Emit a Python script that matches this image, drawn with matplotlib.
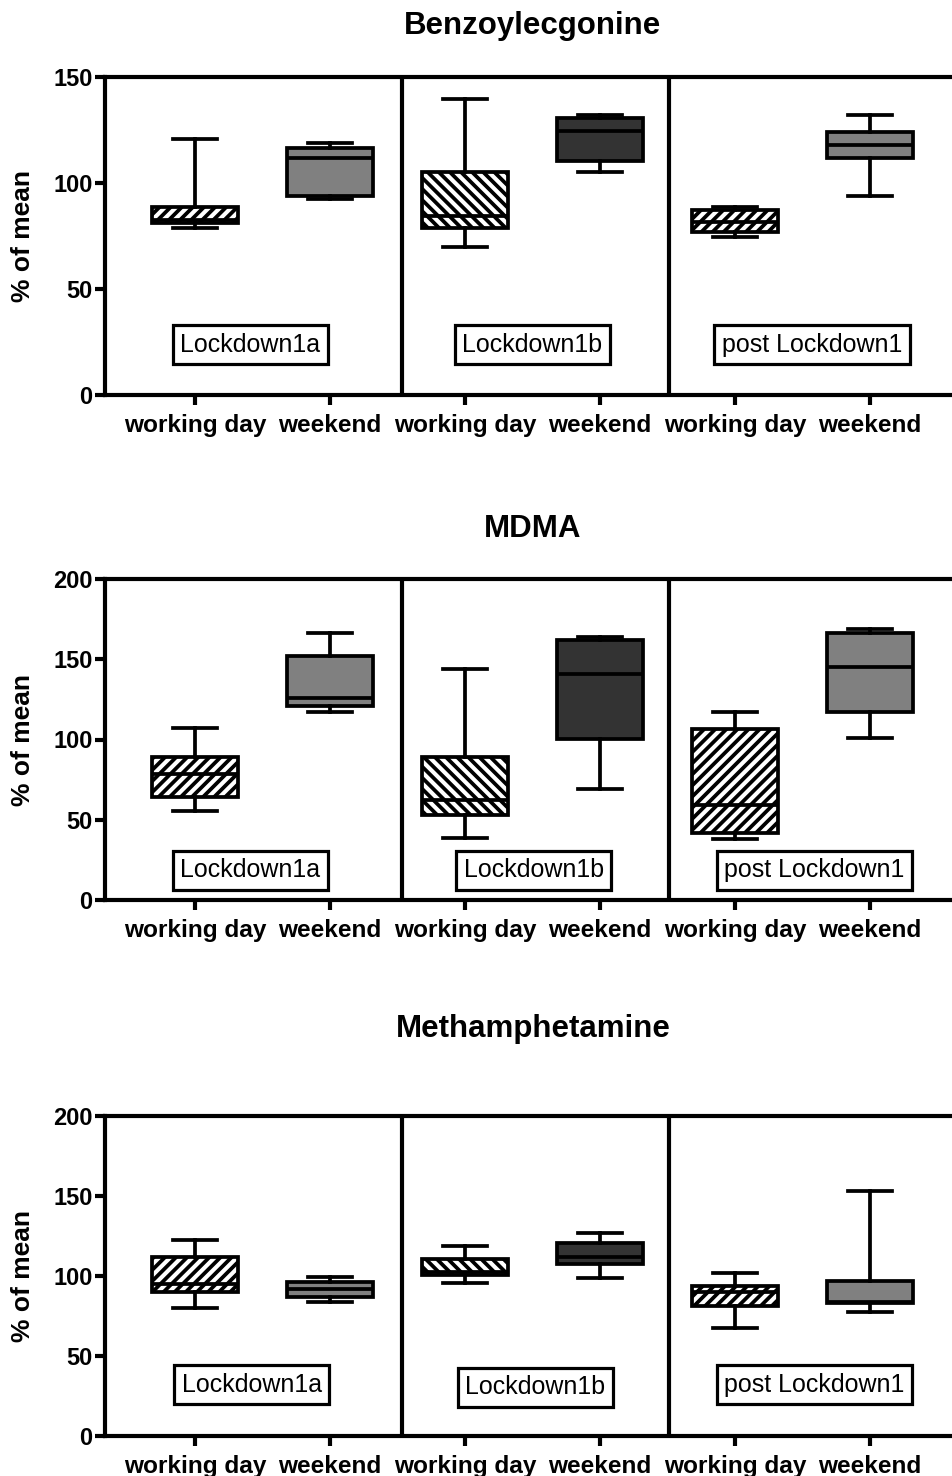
import matplotlib
matplotlib.use("Agg")
import matplotlib.pyplot as plt

plt.rcParams["font.family"] = ["Liberation Sans", "DejaVu Sans"]
plt.rcParams["hatch.linewidth"] = 2.7
plt.rcParams["hatch.color"] = "black"

groups = ["working day", "weekend"] * 3
periods = ["Lockdown1a", "Lockdown1b", "post Lockdown1"]
fills = ["white", "#808080", "white", "#333333", "white", "#808080"]
hatches = ["///", "", "\\\\\\", "", "///", ""]

titles = ["Benzoylecgonine", "MDMA", "Methamphetamine"]
y_tops = [150, 200, 200]

# five-number summaries per group (6 boxes per panel)
benz_lo = [79.0, 92.3, 70.0, 105.0, 74.7, 94.0]
benz_q1 = [81.3, 94.0, 79.0, 110.4, 76.7, 111.6]
benz_med = [82.5, 112.0, 84.4, 124.7, 81.8, 117.9]
benz_q3 = [88.8, 116.6, 105.0, 130.5, 87.3, 124.2]
benz_hi = [120.8, 119.0, 139.5, 132.0, 88.8, 132.0]

mdma_lo = [55.6, 117.3, 38.4, 69.2, 37.8, 101.1]
mdma_q1 = [64.4, 121.0, 53.0, 100.1, 41.9, 117.3]
mdma_med = [78.3, 125.6, 62.3, 140.8, 59.2, 145.4]
mdma_q3 = [88.9, 152.2, 89.3, 162.0, 106.3, 166.2]
mdma_hi = [107.4, 166.2, 143.9, 164.0, 117.0, 168.8]

meth_lo = [80.2, 83.9, 95.4, 98.9, 67.7, 77.3]
meth_q1 = [89.8, 86.7, 100.6, 107.5, 81.5, 83.3]
meth_med = [94.8, 91.9, 102.7, 112.0, 90.0, 83.5]
meth_q3 = [111.7, 96.5, 110.4, 120.4, 93.5, 96.9]
meth_hi = [122.5, 99.2, 118.8, 127.0, 102.0, 153.3]

summaries = [
    (benz_lo, benz_q1, benz_med, benz_q3, benz_hi),
    (mdma_lo, mdma_q1, mdma_med, mdma_q3, mdma_hi),
    (meth_lo, meth_q1, meth_med, meth_q3, meth_hi),
]

# period label boxes: x centre and y centre per panel
label_x = [[1.41, 3.50, 5.57], [1.41, 3.51, 5.59], [1.42, 3.52, 5.59]]
label_y = [[23.6, 23.6, 23.6], [18.6, 18.6, 18.6], [31.9, 30.6, 31.9]]
separators = [2.53, 4.51]

W, H = 953, 1476
fig = plt.figure(figsize=(W / 100, H / 100), dpi=100)

# axes boxes in pixels: (top, bottom)
panel_px = [(77, 395), (579, 900), (1116, 1436)]
title_px = [26, 529, 1029]
left_px = 105

positions = [1, 2, 3, 4, 5, 6]
lw = 2.7

for i, (top, bot) in enumerate(panel_px):
    ax = fig.add_axes([left_px / W, 1 - bot / H, 1 - left_px / W, (bot - top) / H])
    lo, q1, med, q3, hi = summaries[i]
    stats = [
        {"whislo": lo[k], "q1": q1[k], "med": med[k], "q3": q3[k], "whishi": hi[k], "fliers": []}
        for k in range(6)
    ]
    bp = ax.bxp(
        stats,
        positions=positions,
        widths=0.64,
        patch_artist=True,
        showfliers=False,
        boxprops={"linewidth": lw, "edgecolor": "black"},
        whiskerprops={"linewidth": lw, "color": "black"},
        capprops={"linewidth": lw, "color": "black"},
        medianprops={"linewidth": lw, "color": "black"},
    )
    for patch, fc, ht in zip(bp["boxes"], fills, hatches):
        patch.set_facecolor(fc)
        patch.set_hatch(ht)

    ax.set_xlim(0.333, 6.615)
    ax.set_ylim(0, y_tops[i])
    ax.set_yticks(range(0, y_tops[i] + 1, 50))
    ax.set_xticks(positions)
    ax.set_xticklabels(groups, fontsize=17.6, fontweight="bold")
    for t in ax.get_yticklabels():
        t.set_fontsize(17)
        t.set_fontweight("bold")
    ax.tick_params(axis="both", length=7, width=3.0, direction="out")
    ax.tick_params(axis="y", pad=2)
    ax.tick_params(axis="x", pad=7)

    for side in ["left", "top", "bottom"]:
        ax.spines[side].set_linewidth(3.0)
    ax.spines["right"].set_visible(False)

    for sep in separators:
        ax.axvline(sep, color="black", linewidth=3.0)

    ax.set_ylabel("% of mean", fontsize=19, fontweight="bold")
    ax.yaxis.set_label_coords(-0.083, 0.5)

    for name, lx, ly in zip(periods, label_x[i], label_y[i]):
        ax.text(lx, ly, name, fontsize=18, ha="center", va="center",
                bbox={"boxstyle": "square,pad=0.3", "facecolor": "white",
                      "edgecolor": "black", "linewidth": 2.3})

    fig.text(533 / W, 1 - title_px[i] / H, titles[i], fontsize=22.5,
             fontweight="bold", ha="center", va="center")

fig.savefig("out.png", dpi=100)
plt.close(fig)
